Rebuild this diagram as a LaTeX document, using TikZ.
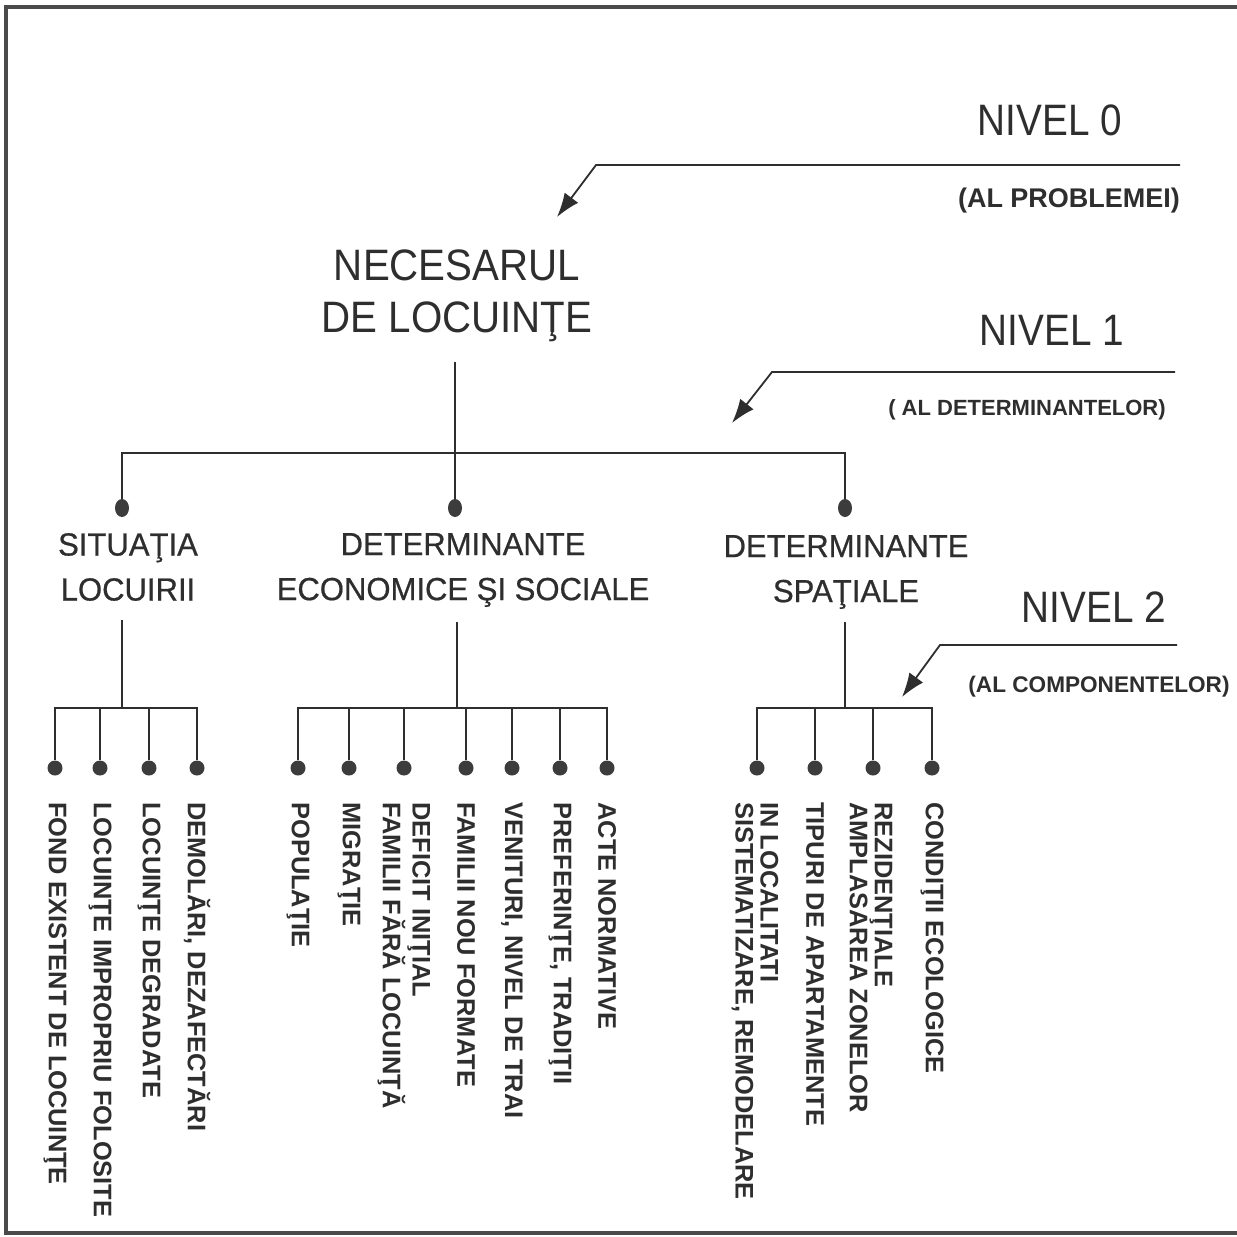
\documentclass[tikz,border=0pt]{standalone}
\usepackage{fontspec}
\setmainfont{Liberation Sans}
\newfontfamily\condf[FakeStretch=0.88]{Liberation Sans}
\newfontfamily\titlef[FakeStretch=0.915]{Liberation Sans}
\newfontfamily\midf[FakeStretch=0.97,FakeBold=0.6]{Liberation Sans}
\usetikzlibrary{arrows.meta,shapes.geometric}
\definecolor{ink}{HTML}{2E2E2E}
\definecolor{dotc}{HTML}{3C3C3C}
\definecolor{framec}{HTML}{4A4A4A}
\begin{document}
\begin{tikzpicture}[x=0.5pt,y=-0.5pt,
  conn/.style={draw=ink, line width=0.9pt},
  arrowline/.style={draw=ink, line width=0.9pt, -{Latex[length=12pt,width=8.5pt]}},
  dotleaf/.style={circle, fill=dotc, inner sep=0pt, minimum size=7.5pt},
  dotmid/.style={ellipse, fill=dotc, inner sep=0pt, minimum width=7pt, minimum height=9pt},
  titlebox/.style={align=center, inner sep=0pt, text=ink, font=\titlef\fontsize{22pt}{26pt}\selectfont},
  nivel/.style={inner sep=0pt, text=ink, font=\condf\fontsize{22pt}{26pt}\selectfont},
  sub/.style={inner sep=0pt, text=ink, font=\bfseries\fontsize{11pt}{13pt}\selectfont},
  lab/.style={align=center, inner sep=0pt, text=ink, font=\midf\fontsize{16pt}{22.5pt}\selectfont},
  leaf/.style={rotate=-90, anchor=west, align=left, inner sep=0pt, text=ink, font=\bfseries\fontsize{12.7pt}{12.5pt}\selectfont}
]
\useasboundingbox[fill=white] (0,0) rectangle (1237,1237);
% frame
\draw[framec, line width=1.6pt] (1250,7) -- (6,7) -- (6,1233) -- (1250,1233);

% level texts
\node[nivel] (n0) at (1050,120) {NIVEL 0};
\node[sub, font=\bfseries\fontsize{13.5pt}{15pt}\selectfont] (p0) at (1069,201) {(AL PROBLEMEI)};
\node[nivel] (n1) at (1052,330) {NIVEL 1};
\node[sub] (p1) at (1027,410) {( AL DETERMINANTELOR)};
\node[nivel] (n2) at (1094,607) {NIVEL 2};
\node[sub, font=\bfseries\fontsize{11.3pt}{13pt}\selectfont] (p2) at (1099,687) {(AL COMPONENTELOR)};

% arrows
\coordinate (a0s) at (1180,165); \coordinate (a0k) at (596,165); \coordinate (a0e) at (557,217);
\coordinate (a1s) at (1175,372); \coordinate (a1k) at (772,372); \coordinate (a1e) at (732,423);
\coordinate (a2s) at (1177,645); \coordinate (a2k) at (940,645); \coordinate (a2e) at (902,697);
\draw[arrowline] (a0s) -- (a0k) -- (a0e);
\draw[arrowline] (a1s) -- (a1k) -- (a1e);
\draw[arrowline] (a2s) -- (a2k) -- (a2e);

% title
\node[titlebox] (t) at (457,296) {NECESARUL\\DE LOCUINŢE};
\coordinate (t0) at (455,362);
\coordinate (j0) at (455,453);
\node[dotmid] (d1) at (122,508) {};
\node[dotmid] (d2) at (455,508) {};
\node[dotmid] (d3) at (845,508) {};
\draw[conn] (t0) -- (d2);
\draw[conn] (d1) -- (d1 |- j0) -- (d3 |- j0) -- (d3);

% level 1 labels
\node[lab] (l1) at (128,567) {SITUAŢIA\\LOCUIRII};
\node[lab] (l2) at (463,570) {DETERMINANTE\\ECONOMICE ŞI SOCIALE};
\node[lab] (l3) at (846,572) {DETERMINANTE\\SPAŢIALE};

\coordinate (s1) at (122,620); \coordinate (b1) at (122,708);
\coordinate (s2) at (457,622); \coordinate (b2) at (457,708);
\coordinate (s3) at (845,622); \coordinate (b3) at (845,708);
\draw[conn] (s1) -- (b1);
\draw[conn] (s2) -- (b2);
\draw[conn] (s3) -- (b3);

% group 1 leaves
\node[dotleaf] (e11) at (55,768) {};
\node[dotleaf] (e12) at (100,768) {};
\node[dotleaf] (e13) at (149,768) {};
\node[dotleaf] (e14) at (197,768) {};
\draw[conn] (e11) -- (e11 |- b1) -- (e14 |- b1) -- (e14);
\draw[conn] (e12) -- (e12 |- b1);
\draw[conn] (e13) -- (e13 |- b1);
\node[leaf] (f11) at (55,802) {FOND EXISTENT DE LOCUINŢE};
\node[leaf] (f12) at (100,802) {LOCUINŢE IMPROPRIU FOLOSITE};
\node[leaf] (f13) at (149,802) {LOCUINŢE DEGRADATE};
\node[leaf] (f14) at (197,802) {DEMOLĂRI, DEZAFECTĂRI};

% group 2 leaves
\node[dotleaf] (e21) at (298,768) {};
\node[dotleaf] (e22) at (349,768) {};
\node[dotleaf] (e23) at (404,768) {};
\node[dotleaf] (e24) at (466,768) {};
\node[dotleaf] (e25) at (512,768) {};
\node[dotleaf] (e26) at (560,768) {};
\node[dotleaf] (e27) at (607,768) {};
\draw[conn] (e21) -- (e21 |- b2) -- (e27 |- b2) -- (e27);
\draw[conn] (e22) -- (e22 |- b2);
\draw[conn] (e23) -- (e23 |- b2);
\draw[conn] (e24) -- (e24 |- b2);
\draw[conn] (e25) -- (e25 |- b2);
\draw[conn] (e26) -- (e26 |- b2);
\node[leaf] (f21) at (298,802) {POPULAŢIE};
\node[leaf] (f22) at (349,802) {MIGRAŢIE};
\node[leaf] (f23) at (404,802) {DEFICIT INIŢIAL\\FAMILII FĂRĂ LOCUINŢĂ};
\node[leaf] (f24) at (466,802) {FAMILII NOU FORMATE};
\node[leaf] (f25) at (512,802) {VENITURI, NIVEL DE TRAI};
\node[leaf] (f26) at (560,802) {PREFERINŢE, TRADIŢII};
\node[leaf] (f27) at (607,802) {ACTE NORMATIVE};

% group 3 leaves
\node[dotleaf] (e31) at (757,768) {};
\node[dotleaf] (e32) at (815,768) {};
\node[dotleaf] (e33) at (873,768) {};
\node[dotleaf] (e34) at (932,768) {};
\draw[conn] (e31) -- (e31 |- b3) -- (e34 |- b3) -- (e34);
\draw[conn] (e32) -- (e32 |- b3);
\draw[conn] (e33) -- (e33 |- b3);
\node[leaf] (f31) at (755,802) {IN LOCALITATI\\SISTEMATIZARE, REMODELARE};
\node[leaf] (f32) at (815,802) {TIPURI DE APARTAMENTE};
\node[leaf] (f33) at (871,802) {REZIDENŢIALE\\AMPLASAREA ZONELOR};
\node[leaf] (f34) at (932,802) {CONDIŢII ECOLOGICE};
\end{tikzpicture}
\end{document}
